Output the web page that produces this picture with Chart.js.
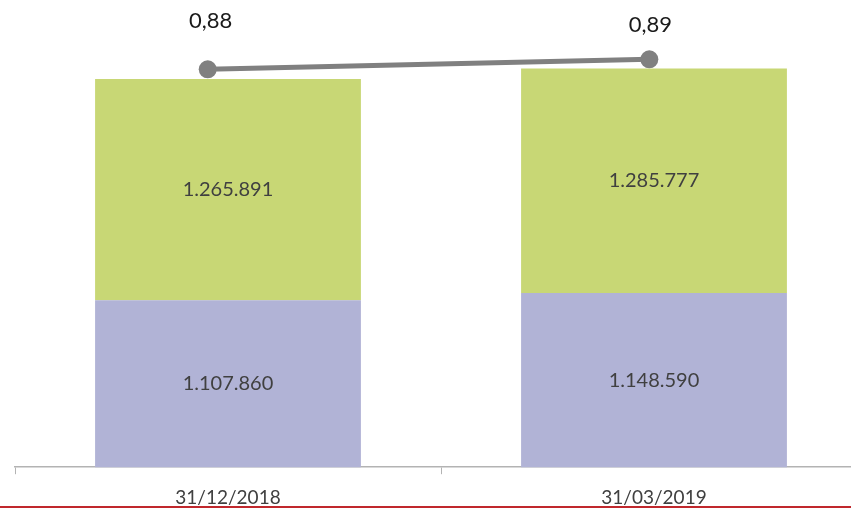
<!DOCTYPE html>
<html>
<head>
<meta charset="utf-8">
<script src="https://cdn.jsdelivr.net/npm/chart.js@4/dist/chart.umd.min.js"></script>
<style>
  html, body { margin: 0; padding: 0; background: #ffffff; overflow: hidden; }
  body { width: 851px; height: 508px; position: relative; }
  #wrap { position: absolute; left: 0; top: 0; width: 867px; height: 521px; }
  #rule { position: absolute; left: 0; top: 506px; width: 851px; height: 2px; background: #c0282d; z-index: 2; }
</style>
</head>
<body>
<div id="wrap"><canvas id="chart"></canvas></div>
<div id="rule"></div>
<script>
// Reporting dates
const categories = ['31/12/2018', '31/03/2019'];
// Stacked components
const lowerValues = [1107860, 1148590];
const upperValues = [1265891, 1285777];
// Ratio plotted on the secondary axis
const ratioValues = [0.88, 0.89];

const fmtThousands = v => String(Math.round(v)).replace(/\B(?=(\d{3})+(?!\d))/g, '.');
const fmtRatio = v => v.toFixed(2).replace('.', ',');

// Writes values inside the bar segments and above the ratio points
const valueLabels = {
  id: 'valueLabels',
  afterDatasetsDraw(chart, args, opts) {
    const ctx = chart.ctx;
    const area = chart.chartArea;
    ctx.save();
    ctx.textAlign = 'center';
    ctx.textBaseline = 'middle';
    chart.data.datasets.forEach((ds, di) => {
      const meta = chart.getDatasetMeta(di);
      meta.data.forEach((el, i) => {
        const v = ds.data[i];
        if (ds.type === 'line') {
          ctx.font = opts.ratioFont;
          ctx.fillStyle = opts.ratioColor;
          ctx.fillText(fmtRatio(v.y), el.x + opts.ratioDx[i], el.y + opts.ratioDy[i]);
        } else {
          const top = Math.max(el.y, area.top);
          const bottom = Math.min(el.base, area.bottom);
          ctx.font = opts.barFont;
          ctx.fillStyle = opts.barColor;
          ctx.fillText(fmtThousands(v), el.x, (top + bottom) / 2);
        }
      });
    });
    ctx.restore();
  }
};

new Chart(document.getElementById('chart'), {
  type: 'bar',
  data: {
    labels: categories,
    datasets: [
      {
        type: 'line',
        data: ratioValues.map((r, i) => ({ x: i, y: r })),
        xAxisID: 'x2',
        yAxisID: 'y2',
        borderColor: '#808080',
        borderWidth: 5,
        pointRadius: 9,
        pointHoverRadius: 9,
        pointBackgroundColor: '#808080',
        pointBorderWidth: 0,
        clip: false,
        order: 0
      },
      {
        data: lowerValues,
        backgroundColor: '#b1b3d6',
        categoryPercentage: 1,
        barPercentage: 0.624,
        grouped: false,
        order: 1
      },
      {
        data: upperValues,
        backgroundColor: '#c8d775',
        categoryPercentage: 1,
        barPercentage: 0.624,
        grouped: false,
        order: 1
      }
    ]
  },
  options: {
    responsive: true,
    maintainAspectRatio: false,
    animation: false,
    events: [],
    layout: { autoPadding: false, padding: { left: 15, right: 0, top: 0, bottom: 0 } },
    plugins: {
      legend: { display: false },
      tooltip: { enabled: false },
      valueLabels: {
        barFont: '20px Lato',
        barColor: '#404040',
        ratioFont: '22px Lato',
        ratioColor: '#1a1a1a',
        ratioDx: [3, 1],
        ratioDy: [-48, -34]
      }
    },
    scales: {
      x: {
        stacked: true,
        offset: true,
        grid: {
          offset: true,
          drawOnChartArea: false,
          drawTicks: true,
          tickLength: 7,
          tickColor: '#b3b3b3',
          tickWidth: 1
        },
        border: { display: true, color: '#b3b3b3', width: 1.5 },
        ticks: { color: '#404040', font: { family: 'Lato', size: 19 }, padding: 12 }
      },
      x2: {
        type: 'linear',
        display: false,
        offset: false,
        min: -0.4364,
        max: 1.4929
      },
      y: {
        stacked: true,
        display: false,
        min: 151280,
        max: 2826270
      },
      y2: {
        display: false,
        position: 'right',
        min: 0.4823,
        max: 0.9493
      }
    }
  },
  plugins: [valueLabels]
});
</script>
</body>
</html>
